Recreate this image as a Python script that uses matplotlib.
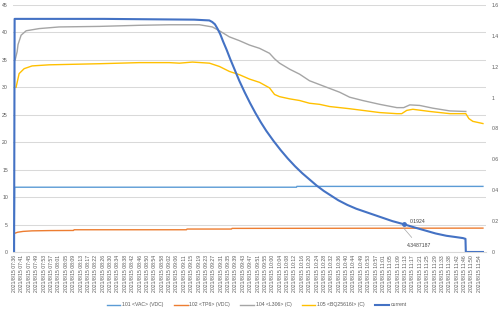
import numpy as np
from matplotlib import pyplot as plt

# minutes after 2021/8/15 07:36
vac_t = [0.0, 0.3, 156.8, 157.0, 260.3]
vac = [0.0, 11.8, 11.8, 11.95, 11.95]

tp6_t = [0.3, 2, 5, 10, 20, 33, 33.3, 95.7, 96, 120.7, 121, 260.3]
tp6 = [3.4, 3.6, 3.75, 3.85, 3.9, 3.92, 4.05, 4.05, 4.18, 4.18, 4.3, 4.35]

l306_t = [0.6, 1.7, 2.2, 3.9, 6.7, 13.9, 25, 47.3, 69.5, 86.2, 91.8, 102.9, 110.1, 114, 119.5,
          125.1, 130.7, 136.3, 141.8, 144.6, 147.4, 153, 158.5, 164, 169.6, 175.2, 180.8, 186.3,
          193.5, 203, 212.5, 216.3, 219.7, 225.2, 232.5, 242, 250.8]
l306 = [35.0, 36.5, 37.8, 39.5, 40.3, 40.7, 41.0, 41.1, 41.3, 41.4, 41.4, 41.4, 41.0, 40.3, 39.2,
        38.5, 37.7, 37.1, 36.2, 35.2, 34.4, 33.3, 32.4, 31.2, 30.5, 29.8, 29.1, 28.2,
        27.6, 26.9, 26.3, 26.3, 26.8, 26.7, 26.2, 25.7, 25.6]

bq_t = [1.1, 2.8, 5.6, 10, 19.5, 47.3, 69.5, 86.2, 91.8, 99, 108.5, 114, 119.5, 125.1, 130.7,
        136.3, 141.8, 144.6, 147.4, 153, 158.5, 164, 169.6, 175.2, 180.8, 186.3, 193.5, 203,
        212.5, 215.2, 218, 221.4, 230.8, 242, 250.8, 252.5, 254.7, 260.3]
bq = [30.0, 32.5, 33.4, 33.9, 34.1, 34.3, 34.5, 34.5, 34.4, 34.6, 34.4, 33.8, 32.9, 32.3, 31.5,
      30.9, 29.9, 28.7, 28.3, 27.9, 27.6, 27.1, 26.9, 26.5, 26.3, 26.1, 25.8, 25.4,
      25.2, 25.2, 25.8, 26.0, 25.6, 25.2, 25.2, 24.3, 23.8, 23.4]

cur_t = [0.0, 0.3, 50, 100, 108.4, 110, 111.5, 113, 114.5, 116, 118, 120, 122.5, 125, 128, 131,
         134, 137, 140, 144, 148, 152, 156, 160, 164, 168, 172, 176, 180, 185, 190, 195, 200,
         205, 210, 216.3, 222, 228, 234, 240, 245, 249.2, 250.6, 250.8, 260.3]
cur = [0.0, 1.51, 1.51, 1.505, 1.50, 1.49, 1.475, 1.445, 1.41, 1.365, 1.31, 1.25, 1.18, 1.11,
       1.035, 0.965, 0.90, 0.84, 0.785, 0.72, 0.66, 0.605, 0.555, 0.51, 0.47, 0.43, 0.395,
       0.365, 0.335, 0.305, 0.28, 0.26, 0.24, 0.22, 0.20, 0.18, 0.16, 0.14, 0.12, 0.105,
       0.097, 0.09, 0.085, 0.0, 0.0]
ann_i = 35          # labelled point on current
ann_cur = '0.1924'
ann_tp6 = '4.3487187'
ann_tp6_val = 4.35

tick_times = ['07:36', '07:41', '07:45', '07:49', '07:53', '07:57',
              '08:01', '08:05', '08:09', '08:13', '08:17', '08:22', '08:26', '08:30', '08:34',
              '08:38', '08:42', '08:46', '08:50', '08:54', '08:58',
              '09:02', '09:06', '09:11', '09:15', '09:19', '09:23', '09:27', '09:31', '09:35',
              '09:39', '09:43', '09:47', '09:51', '09:55',
              '10:00', '10:04', '10:08', '10:12', '10:16', '10:20', '10:24', '10:28', '10:32',
              '10:36', '10:40', '10:44', '10:49', '10:53', '10:57',
              '11:01', '11:05', '11:09', '11:13', '11:17', '11:21', '11:25', '11:29', '11:33',
              '11:38', '11:42', '11:46', '11:50', '11:54']
tick_labels = ['2021/8/15 ' + s for s in tick_times]

names = ['101 <VAC> (VDC)', '102 <TP6> (VDC)', '104 <L306> (C)', '105 <BQ25616I> (C)', 'current']
colors = ['#5B9BD5', '#ED7D31', '#A5A5A5', '#FFC000', '#4472C4']

plt.rcParams['font.family'] = ['Liberation Sans', 'DejaVu Sans']
txt = '#595959'
fs = 3.7

fig = plt.figure(figsize=(5, 3.14), dpi=100)
ax = fig.add_axes([0.026, 0.1975, 0.946, 0.7866])
ax2 = ax.twinx()

h = []
h += ax.plot(vac_t, vac, color=colors[0], lw=1.0)
h += ax.plot(tp6_t, tp6, color=colors[1], lw=1.0)
h += ax.plot(l306_t, l306, color=colors[2], lw=1.0)
h += ax.plot(bq_t, bq, color=colors[3], lw=1.0)
h += ax2.plot(cur_t, cur, color=colors[4], lw=1.5)
ax2.plot(cur_t[ann_i], cur[ann_i], 'o', color=colors[4], ms=2.5)

ax.set_xlim(-0.6, 262)
ax.set_ylim(0, 45)
ax.set_yticks(np.arange(0, 46, 5))
ax2.set_ylim(0, 1.6)
ax2.set_yticks(np.arange(0, 1.61, 0.2))
ax2.set_yticklabels(['0', '0.2', '0.4', '0.6', '0.8', '1', '1.2', '1.4', '1.6'])

ax.set_xticks(np.linspace(0.3, 258.3, len(tick_labels)))
ax.set_xticklabels(tick_labels, rotation=90, fontsize=fs, color=txt)
ax.tick_params(axis='x', length=0, pad=2)
ax.tick_params(axis='y', length=0, pad=3.6, labelsize=fs, labelcolor=txt)
ax2.tick_params(axis='y', length=0, pad=4.3, labelsize=fs, labelcolor=txt)

ax.grid(axis='y', color='#D9D9D9', lw=0.75)
ax.set_axisbelow(True)
for a in (ax, ax2):
    for s in ('top', 'left', 'right'):
        a.spines[s].set_visible(False)
    a.spines['bottom'].set_color('#D9D9D9')
    a.spines['bottom'].set_linewidth(0.75)

t0 = cur_t[ann_i]
ax2.text(t0 + 3.2, cur[ann_i] + 0.015, ann_cur, fontsize=fs, color='#404040', va='center', ha='left')
ax.annotate(ann_tp6, xy=(t0, ann_tp6_val), xytext=(t0 + 8.5, 1.1), fontsize=fs, color='#404040',
            ha='center', va='center',
            arrowprops=dict(arrowstyle='-', color='#A6A6A6', lw=0.5, shrinkA=3, shrinkB=0))

fig.legend(h, names, loc='center', bbox_to_anchor=(0.513, 0.029), ncol=5, frameon=False,
           fontsize=fs, labelcolor=txt, handlelength=2.7, handletextpad=0.3, columnspacing=2.0)

fig.savefig('out.png', dpi=100, facecolor='white')
